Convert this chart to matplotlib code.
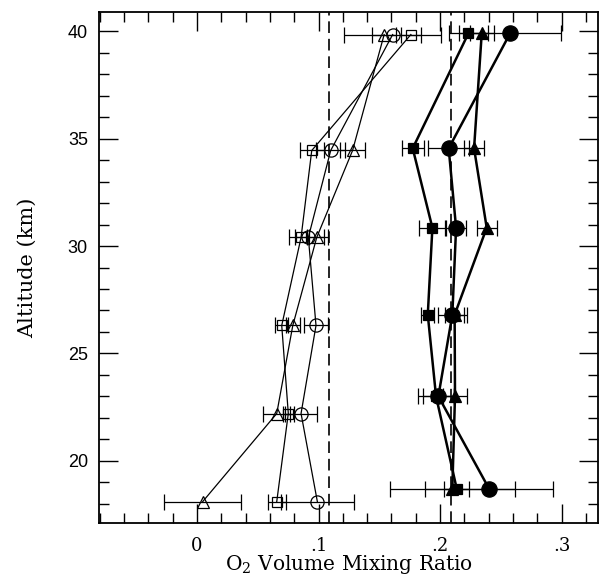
import matplotlib
matplotlib.use("Agg")
import matplotlib.pyplot as plt
from matplotlib.ticker import MultipleLocator, FixedLocator

# ---- data ----
alt_open = [39.85, 34.45, 30.4, 26.3, 22.2, 18.1]
alt_filled = [39.9, 34.55, 30.85, 26.8, 23.0, 18.7]

open_square = [0.176, 0.0944, 0.0856, 0.0697, 0.0751, 0.0656]
open_square_err = [0.008, 0.010, 0.005, 0.0055, 0.0045, 0.0075]
open_circle = [0.161, 0.110, 0.0916, 0.0979, 0.0856, 0.099]
open_circle_err = [0.040, 0.012, 0.016, 0.010, 0.013, 0.030]
open_triangle = [0.154, 0.128, 0.0985, 0.0788, 0.0656, 0.0047]
open_triangle_err = [0.010, 0.010, 0.006, 0.006, 0.011, 0.0317]

filled_square = [0.2233, 0.1775, 0.1937, 0.1899, 0.1967, 0.2137]
filled_square_err = [0.016, 0.009, 0.0107, 0.0055, 0.0146, 0.0104]
filled_circle = [0.2576, 0.2071, 0.2132, 0.2101, 0.1986, 0.2403]
filled_circle_err = [0.042, 0.017, 0.0085, 0.012, 0.013, 0.0525]
filled_triangle = [0.2343, 0.228, 0.2384, 0.212, 0.2123, 0.2101]
filled_triangle_err = [0.0097, 0.0085, 0.0083, 0.008, 0.0102, 0.0513]

ref_lines = [0.1087, 0.2088]

x_ticks = [0, 0.1, 0.2, 0.3]
x_ticklabels = ["0", ".1", ".2", ".3"]
y_ticks = [20, 25, 30, 35, 40]

# ---- figure ----
fig = plt.figure(figsize=(6.01, 5.77), dpi=100)
ax = fig.add_axes([99 / 601, 54 / 577, 499 / 601, 511 / 577])

serif = ["DejaVu Serif"]
sans = ["Liberation Sans", "DejaVu Sans"]

for xv in ref_lines:
    ax.axvline(xv, color="black", lw=1.2, dashes=(7, 3.5), zorder=1)

open_sets = [
    (open_square, open_square_err, "s", 7.0),
    (open_circle, open_circle_err, "o", 9.5),
    (open_triangle, open_triangle_err, "^", 8.0),
]
for xs, errs, mk, ms in open_sets:
    ax.errorbar(xs, alt_open, xerr=errs, fmt="none", ecolor="black",
                elinewidth=0.9, capsize=5.5, capthick=0.9, zorder=2)
    ax.plot(xs, alt_open, color="black", lw=0.9, marker=mk, ms=ms,
            mfc="none", mec="black", mew=0.9, zorder=3)

filled_sets = [
    (filled_square, filled_square_err, "s", 7.2),
    (filled_circle, filled_circle_err, "o", 11.0),
    (filled_triangle, filled_triangle_err, "^", 8.0),
]
for xs, errs, mk, ms in filled_sets:
    ax.errorbar(xs, alt_filled, xerr=errs, fmt="none", ecolor="black",
                elinewidth=0.9, capsize=5.5, capthick=0.9, zorder=2)
    ax.plot(xs, alt_filled, color="black", lw=1.8, marker=mk, ms=ms,
            mfc="black", mec="black", mew=0.9, zorder=4)

ax.set_xlim(-0.0807, 0.33)
ax.set_ylim(17.1, 40.9)

ax.xaxis.set_major_locator(FixedLocator(x_ticks))
ax.set_xticklabels(x_ticklabels)
ax.xaxis.set_minor_locator(MultipleLocator(0.02))
ax.yaxis.set_major_locator(FixedLocator(y_ticks))
ax.yaxis.set_minor_locator(MultipleLocator(1))

ax.tick_params(which="both", direction="in", top=True, right=True, width=1.0)
ax.tick_params(which="major", length=14)
ax.tick_params(which="minor", length=7)
ax.tick_params(axis="x", which="major", pad=10)
ax.tick_params(axis="y", which="major", pad=8)

for lab in ax.get_xticklabels():
    lab.set_family(serif)
    lab.set_fontsize(13)
for lab in ax.get_yticklabels():
    lab.set_family(sans)
    lab.set_fontsize(13)

for s in ax.spines.values():
    s.set_linewidth(1.3)

plt.rcParams["mathtext.fontset"] = "dejavuserif"
ax.set_xlabel(r"O$_\mathregular{2}$ Volume Mixing Ratio", family=serif,
              fontsize=14.5, labelpad=-1)
ax.set_ylabel("Altitude (km)", family=serif, fontsize=15, labelpad=22)

fig.savefig("out.png", dpi=100)
